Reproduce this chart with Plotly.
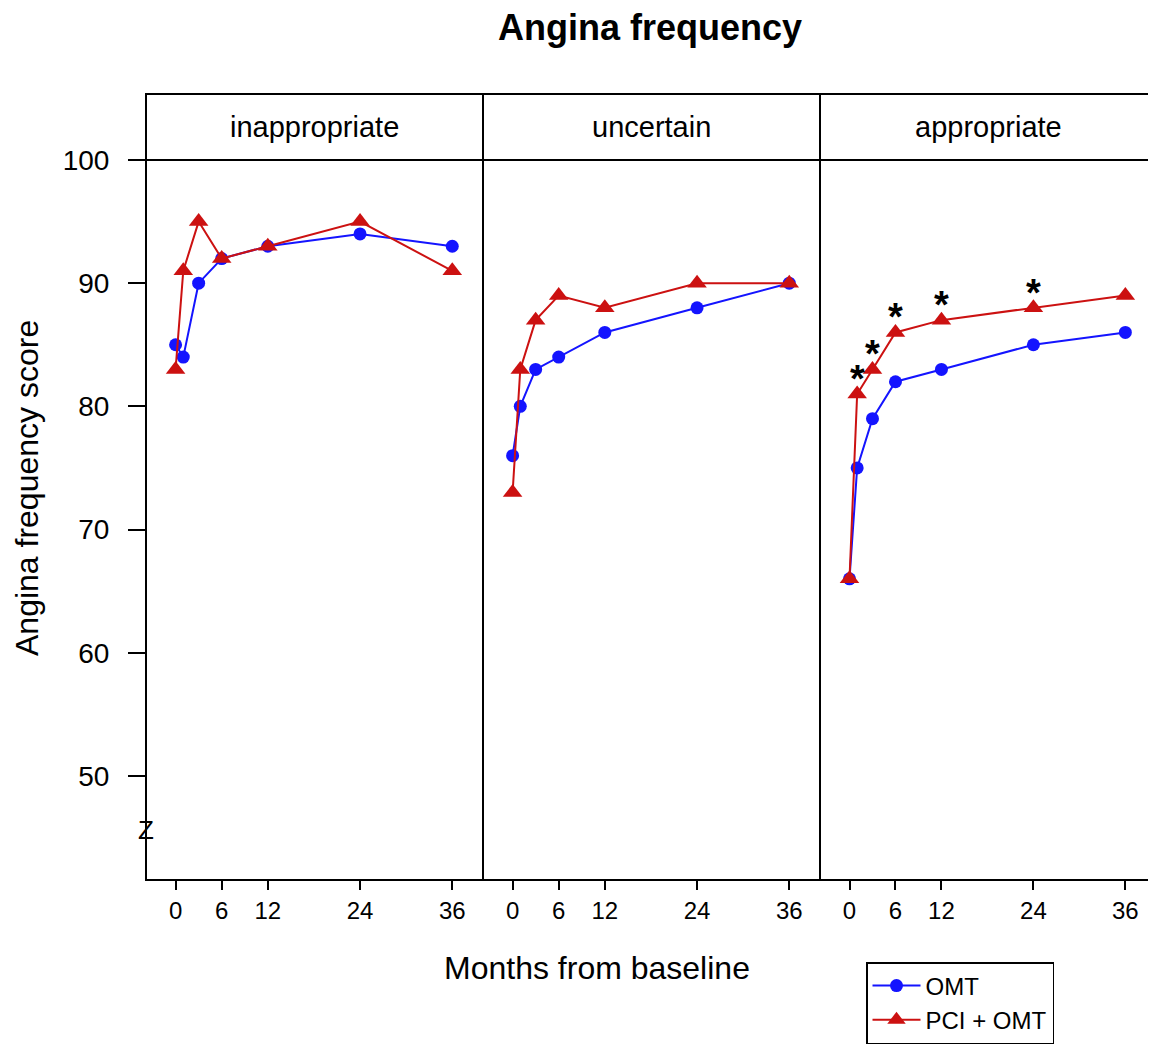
import plotly.graph_objects as go

months = [0, 1, 3, 6, 12, 24, 36]
panels = ["inappropriate", "uncertain", "appropriate"]
omt = {
    "inappropriate": [85, 84, 90, 92, 93, 94, 93],
    "uncertain": [76, 80, 83, 84, 86, 88, 90],
    "appropriate": [66, 75, 79, 82, 83, 85, 86],
}
pci = {
    "inappropriate": [83, 91, 95, 92, 93, 95, 91],
    "uncertain": [73, 83, 87, 89, 88, 90, 90],
    "appropriate": [66, 81, 83, 86, 87, 88, 89],
}
# significant time points (stars) in the "appropriate" panel
sig_months = [1, 3, 6, 12, 24]
x_ticks = [0, 6, 12, 24, 36]
y_ticks = [50, 60, 70, 80, 90, 100]

FONT = "Liberation Sans, Arial, sans-serif"
BLUE = "#1414ff"
RED = "#cc1111"

OFF = 8  # page body margin offset
W, H = 1156 - OFF, 1044 - OFF
ML, MR, MT, MB = 146 - OFF, 0, 94 - OFF, 164
PW = W - ML - MR
PH = H - MT - MB
px_top_plot = 160 - OFF
ydom_top = (H - MB - px_top_plot) / PH


def px_x(x):
    return (x - OFF - ML) / PW


def px_y(y):
    return (H - MB - (y - OFF)) / PH


bounds = [0, px_x(483), px_x(820), 1.0]
xnames = ["x", "x2", "x3"]

fig = go.Figure()
for i, p in enumerate(panels):
    fig.add_trace(go.Scatter(
        x=months, y=omt[p], xaxis=xnames[i], yaxis="y",
        mode="lines+markers", name="OMT", legendgroup="OMT",
        showlegend=(i == 0),
        line=dict(color=BLUE, width=2),
        marker=dict(symbol="circle", size=13, color=BLUE),
    ))
    fig.add_trace(go.Scatter(
        x=months, y=pci[p], xaxis=xnames[i], yaxis="y",
        mode="lines+markers", name="PCI + OMT", legendgroup="PCI",
        showlegend=(i == 0),
        line=dict(color=RED, width=2),
        marker=dict(symbol="triangle-up", size=17, color=RED),
    ))

layout = dict(
    width=W, height=H,
    margin=dict(l=ML, r=MR, t=MT, b=MB, pad=0),
    paper_bgcolor="white", plot_bgcolor="white",
    font=dict(family=FONT, color="black"),
    showlegend=True,
    legend=dict(
        x=px_x(866), y=px_y(962), xanchor="left", yanchor="top",
        bordercolor="black", borderwidth=1.5, bgcolor="white",
        font=dict(size=24, family=FONT), itemwidth=48,
        tracegroupgap=0,
    ),
    yaxis=dict(
        range=[41.55, 100], domain=[0, ydom_top], tickvals=y_ticks,
        ticks="outside", ticklen=17, tickwidth=1.5, tickcolor="black",
        tickfont=dict(size=28, family=FONT), showgrid=False, zeroline=False,
        showline=False, anchor="x", ticklabelstandoff=13,
    ),
)
for i, xn in enumerate(xnames):
    key = "xaxis" if i == 0 else f"xaxis{i+1}"
    layout[key] = dict(
        range=[-3.85, 40.0], domain=[bounds[i], bounds[i + 1]],
        tickvals=x_ticks, ticks="outside", ticklen=9, tickwidth=1.5,
        tickcolor="black", tickfont=dict(size=24, family=FONT),
        showgrid=False, zeroline=False, showline=False, anchor="y",
    )
fig.update_layout(**layout)

shapes = []
shapes.append(dict(type="rect", xref="paper", yref="paper", x0=0, x1=1, y0=0, y1=1,
                   line=dict(color="black", width=2)))
for b in bounds[1:3]:
    shapes.append(dict(type="line", xref="paper", yref="paper", x0=b, x1=b, y0=0, y1=1,
                       line=dict(color="black", width=2)))
shapes.append(dict(type="line", xref="paper", yref="paper", x0=0, x1=1,
                   y0=ydom_top, y1=ydom_top, line=dict(color="black", width=2)))
fig.update_layout(shapes=shapes)

ann = []
strip_y = (ydom_top + 1) / 2
for i, p in enumerate(panels):
    ann.append(dict(text=p, xref="paper", yref="paper", x=(bounds[i] + bounds[i + 1]) / 2,
                    y=strip_y, showarrow=False, font=dict(size=29, family=FONT),
                    xanchor="center", yanchor="middle"))
# stars
pv = dict(zip(months, pci["appropriate"]))
for m in sig_months:
    ann.append(dict(text="<b>*</b>", xref="x3", yref="y", x=m, y=pv[m], yshift=15,
                    showarrow=False, font=dict(size=38, family=FONT, color="black"),
                    xanchor="center", yanchor="middle"))
ann.append(dict(text="<b>Angina frequency</b>", xref="paper", yref="paper",
                x=px_x(650), y=px_y(28), showarrow=False,
                font=dict(size=36, family=FONT), xanchor="center", yanchor="middle"))
ann.append(dict(text="Months from baseline", xref="paper", yref="paper",
                x=px_x(597), y=px_y(968), showarrow=False,
                font=dict(size=32, family=FONT), xanchor="center", yanchor="middle"))
ann.append(dict(text="Angina frequency score", xref="paper", yref="paper",
                x=px_x(27), y=px_y(488), showarrow=False, textangle=-90,
                font=dict(size=32, family=FONT), xanchor="center", yanchor="middle"))
ann.append(dict(text="Z", xref="paper", yref="y", x=0, y=45.6, showarrow=False,
                font=dict(size=26, family=FONT), xanchor="center", yanchor="middle"))
fig.update_layout(annotations=ann)

fig.write_html("out.html")
